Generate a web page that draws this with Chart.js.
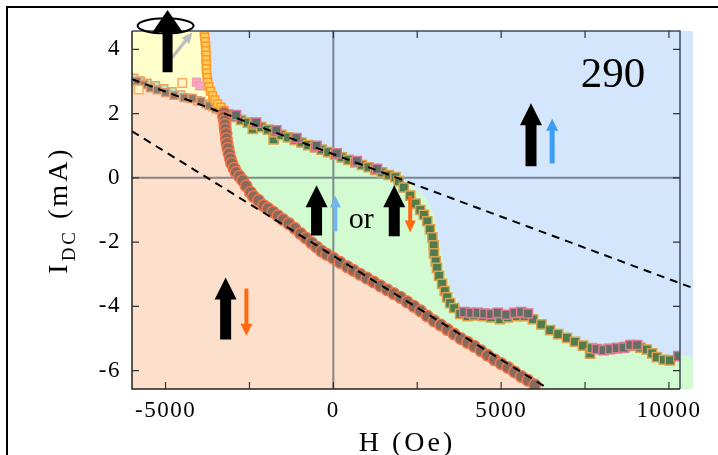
<!DOCTYPE html>
<html>
<head>
<meta charset="utf-8">
<script src="https://cdn.jsdelivr.net/npm/chart.js@4.4.1/dist/chart.umd.min.js"></script>
<style>
  html, body { margin: 0; padding: 0; background: #fff; }
  #wrap { width: 718px; height: 455px; }
</style>
</head>
<body>
<div id="wrap"><canvas id="phaseChart" width="718" height="455"></canvas></div>
<script>
// axes (H in Oe, I in mA)
const hTicks = [-5000, -2500, 0, 2500, 5000, 7500, 10000];
const hLabels = [-5000, 0, 5000, 10000];
const iTicks = [-6, -4, -2, 0, 2, 4];
const hMin = -6000, hMax = 10330;
const iMin = -6.57, iMax = 4.57;

// phase regions as [H, I] outlines
const blueRegion = [[-6000, 4.57], [10720, 4.57], [10720, -6.57], [-6000, -6.57]];
const greenRegion = [
  [-3260, 2.08], [-2500, 1.78], [-1500, 1.40], [-500, 1.0], [500, 0.6], [1500, 0.22], [1950, 0.03],
  [2300, -0.2], [2600, -0.45], [2800, -0.7], [3000, -1.2], [3100, -1.7], [3180, -2.16], [3330, -2.88],
  [3540, -3.5], [3780, -4.03], [4080, -4.19], [4500, -4.12], [5000, -4.13], [5500, -4.1], [5900, -4.15],
  [6300, -4.42], [6900, -4.8], [7500, -5.12], [8000, -5.22], [8500, -5.2], [9000, -5.12], [9400, -5.2],
  [9800, -5.45], [10100, -5.55], [10400, -5.5], [10720, -5.6], [10720, -6.57], [6550, -6.57],
  [6000, -6.44], [4970, -5.78], [3988, -5.12], [2976, -4.45], [1994, -3.72], [420, -2.79], [-390, -2.26],
  [-980, -1.73], [-1580, -1.23], [-2080, -0.86], [-2470, -0.48], [-2700, 0.0], [-2976, 0.55],
  [-3150, 1.1], [-3230, 1.6]
];
const peachRegion = [
  [-6000, 3.12], [-5700, 2.98], [-5400, 2.82], [-5000, 2.62], [-4600, 2.5], [-4200, 2.42], [-3800, 2.28],
  [-3500, 2.15], [-3260, 2.05], [-3230, 1.6], [-3150, 1.1], [-2976, 0.55], [-2700, 0.0], [-2470, -0.48],
  [-2080, -0.86], [-1580, -1.23], [-980, -1.73], [-390, -2.26], [420, -2.79], [1994, -3.72],
  [2976, -4.45], [3988, -5.12], [4970, -5.78], [6000, -6.44], [6450, -6.57], [-6000, -6.57]
];
const yellowRegion = [
  [-6000, 4.57], [-3720, 4.57], [-3720, 3.2], [-3660, 2.75], [-3520, 2.42], [-3350, 2.2], [-3260, 2.08],
  [-3500, 2.17], [-3800, 2.3], [-4200, 2.44], [-4600, 2.52], [-5000, 2.64], [-5400, 2.84], [-5700, 3.0],
  [-6000, 3.14]
];

// measured boundary points
const circlePts = [
  [-3260, 2.02], [-3270, 1.9], [-3240, 1.78], [-3230, 1.66], [-3220, 1.52], [-3200, 1.38], [-3190, 1.22],
  [-3170, 1.07], [-3140, 0.92], [-3110, 0.76], [-3070, 0.6], [-3030, 0.45], [-2960, 0.3], [-2900, 0.17],
  [-2800, 0.05], [-2700, -0.08], [-2600, -0.25], [-2470, -0.45], [-2380, -0.58], [-2230, -0.7],
  [-2080, -0.86], [-1950, -0.95], [-1800, -1.06], [-1650, -1.18], [-1500, -1.3], [-1330, -1.42],
  [-1150, -1.57], [-980, -1.73], [-820, -1.87], [-650, -2.02], [-500, -2.15], [-350, -2.28], [-200, -2.38],
  [0, -2.5], [200, -2.63], [420, -2.77], [600, -2.88], [800, -3.0], [1000, -3.12], [1200, -3.24],
  [1400, -3.36], [1600, -3.48], [1800, -3.6], [2000, -3.72], [2200, -3.86], [2400, -4.0], [2600, -4.14],
  [2800, -4.3], [3000, -4.45], [3200, -4.58], [3400, -4.72], [3600, -4.86], [3800, -5.0], [4000, -5.12],
  [4200, -5.24], [4400, -5.38], [4600, -5.52], [4800, -5.66], [5000, -5.78], [5200, -5.9], [5400, -6.04],
  [5600, -6.18], [5800, -6.3], [6000, -6.44]
];
const greenSquarePts = [
  [-3150, 1.98], [-2950, 1.9], [-2750, 1.8], [-2550, 1.72], [-2400, 1.52], [-2350, 1.66], [-2150, 1.58],
  [-1950, 1.5], [-1780, 1.2], [-1750, 1.42], [-1550, 1.34], [-1350, 1.26], [-1150, 1.18], [-950, 1.1],
  [-750, 1.02], [-550, 0.95], [-350, 0.88], [-150, 0.8], [50, 0.72], [250, 0.64], [450, 0.56], [650, 0.48],
  [850, 0.4], [1050, 0.33], [1250, 0.25], [1450, 0.17], [1650, 0.09], [1850, 0.02],
  [1950, -0.1], [2100, -0.3], [2290, -0.55], [2450, -0.8], [2590, -1.0], [2700, -1.15], [2800, -1.35],
  [2880, -1.6], [2950, -1.85], [2990, -2.1], [3000, -2.35], [3050, -2.6], [3090, -2.8], [3150, -3.05],
  [3240, -3.3], [3320, -3.52], [3390, -3.72], [3480, -3.9], [3600, -4.05], [3780, -4.23], [4000, -4.3],
  [4200, -4.28], [4460, -4.3], [4700, -4.34], [4970, -4.4], [5200, -4.34], [5470, -4.3], [5700, -4.3],
  [5950, -4.4], [6200, -4.56], [6460, -4.74], [6700, -4.86], [6960, -4.98], [7200, -5.1], [7440, -5.22],
  [7650, -5.47], [7700, -5.3], [8200, -5.32], [8450, -5.3], [8700, -5.26], [8930, -5.22], [9150, -5.28],
  [9340, -5.34], [9500, -5.46], [9640, -5.58], [9850, -5.66], [10030, -5.68]
];
const pinkEdgePts = [
  [-2900, 1.95], [-2300, 1.72], [-1700, 1.48], [-1100, 1.24], [-500, 1.0], [100, 0.76], [700, 0.52],
  [1300, 0.28], [3900, -4.18], [4100, -4.2], [4300, -4.2], [4500, -4.22], [4700, -4.24], [4900, -4.2],
  [5150, -4.26], [5400, -4.2], [5600, -4.18], [5800, -4.22], [7850, -5.33], [8050, -5.36], [8250, -5.33],
  [8450, -5.3], [8650, -5.28], [8850, -5.2], [9050, -5.2], [10280, -5.55]
];
const tealPts = [
  [-5950, 3.1], [-5750, 3.02], [-5550, 2.95], [-5300, 2.87], [-5050, 2.78], [-4800, 2.68], [-4550, 2.58],
  [-4300, 2.48], [-4050, 2.4], [-3800, 2.3], [-3600, 2.22], [-3420, 2.12]
];
const brownPts = [
  [-5850, 3.0], [-5650, 2.9], [-5450, 2.8], [-5250, 2.74], [-5000, 2.65], [-4750, 2.57], [-4450, 2.5],
  [-4200, 2.47], [-3950, 2.38], [-3700, 2.25], [-3500, 2.15]
];
const orangePts = [
  [-3850, 4.52], [-3830, 4.38], [-3820, 4.24], [-3800, 4.1], [-3810, 3.96], [-3790, 3.82], [-3800, 3.68],
  [-3780, 3.54], [-3790, 3.4], [-3770, 3.26], [-3760, 3.12], [-3740, 2.98], [-3710, 2.84], [-3660, 2.7],
  [-3600, 2.56], [-3530, 2.43], [-3450, 2.3], [-3350, 2.2], [-3260, 2.1]
];
const pinkPts = [[-4080, 2.98], [-3980, 2.86]];
const hollowPts = [[-4500, 2.95], [-5800, 2.75]];

// dashed guide lines
const upperGuide = [[-6000, 3.07], [10720, -3.43]];
const lowerGuide = [[-6000, 1.45], [6310, -6.5]];

// annotations: [H, I tail, I tip, shaft px, head width px, head length px, colour]
const arrows = [
  [-4940, 3.29, 5.22, 10, 30, 22, '#000'],
  [5890, 0.36, 2.32, 11, 22, 22, '#000'],
  [6520, 0.45, 1.84, 5, 12, 12, '#3d9df5'],
  [-500, -1.79, -0.23, 11, 22, 22, '#000'],
  [60, -1.67, -0.55, 4, 11, 12, '#74b8ea'],
  [1815, -1.82, -0.23, 11, 22, 22, '#000'],
  [2290, -0.55, -1.70, 4, 11, 12, '#ff6a10'],
  [-3210, -5.03, -3.10, 11, 22, 22, '#000'],
  [-2590, -3.44, -4.91, 4, 12, 12, '#ff6a10']
];

const SERIF = "'Liberation Serif', 'Times New Roman', serif";
const OVERHANG = 13; // the coloured regions run a little past the right axis
const xy = pts => pts.map(p => ({ x: p[0], y: p[1] }));

function region(label, pts, color, order) {
  return {
    label: label, data: xy(pts), showLine: true, fill: 'shape',
    backgroundColor: color, borderWidth: 0, borderColor: color,
    pointRadius: 0, order: order, clip: false
  };
}
function markers(label, pts, style, r, fillC, edgeC, order) {
  return {
    label: label, data: xy(pts), showLine: false, pointStyle: style, pointRadius: r,
    pointBackgroundColor: fillC, pointBorderColor: edgeC, pointBorderWidth: 1.5, order: order
  };
}

function drawArrow(ctx, x, yTail, yTip, shaft, headW, headH, color) {
  const dir = yTip < yTail ? -1 : 1;
  const yBase = yTip - dir * headH;
  ctx.fillStyle = color;
  ctx.beginPath();
  ctx.moveTo(x - shaft / 2, yTail);
  ctx.lineTo(x - shaft / 2, yBase);
  ctx.lineTo(x - headW / 2, yBase);
  ctx.lineTo(x, yTip);
  ctx.lineTo(x + headW / 2, yBase);
  ctx.lineTo(x + shaft / 2, yBase);
  ctx.lineTo(x + shaft / 2, yTail);
  ctx.closePath();
  ctx.fill();
}

const decorations = {
  id: 'decorations',
  beforeDraw(chart) {
    // the original tick numbers are set a little wide
    chart.ctx.letterSpacing = '1.5px';
  },
  beforeDatasetsDraw(chart) {
    chart.ctx.letterSpacing = '0px';
    // let the region fills spill past the right axis like the original
    chart.chartArea.right += OVERHANG;
  },
  afterDatasetDraw(chart, args) {
    // zero lines sit above the coloured regions but under the data
    if (chart.data.datasets[args.index].label !== 'yellow') return;
    const { ctx, scales: { x, y } } = chart;
    const x0 = x.getPixelForValue(0), y0 = y.getPixelForValue(0);
    ctx.save();
    ctx.strokeStyle = 'rgba(45,55,75,0.55)';
    ctx.lineWidth = 2;
    ctx.beginPath();
    ctx.moveTo(x0, y.top); ctx.lineTo(x0, y.bottom);
    ctx.moveTo(x.left, y0); ctx.lineTo(x.right, y0);
    ctx.stroke();
    ctx.restore();
  },
  afterDatasetsDraw(chart) {
    chart.chartArea.right -= OVERHANG;
    const { ctx, chartArea: a, scales: { x, y } } = chart;
    ctx.save();
    // plot frame
    ctx.lineWidth = 1.5;
    ctx.strokeStyle = '#3e4c62';
    ctx.beginPath();
    ctx.moveTo(a.left, a.top); ctx.lineTo(a.right, a.top); ctx.lineTo(a.right, a.bottom);
    ctx.stroke();
    ctx.strokeStyle = '#222';
    ctx.beginPath();
    ctx.moveTo(a.left, a.top); ctx.lineTo(a.left, a.bottom); ctx.lineTo(a.right, a.bottom);
    ctx.stroke();
    // inward tick marks on all four sides
    ctx.lineWidth = 1.2;
    ctx.strokeStyle = '#333';
    ctx.beginPath();
    hTicks.forEach(v => {
      const px = x.getPixelForValue(v);
      ctx.moveTo(px, a.bottom); ctx.lineTo(px, a.bottom - 7);
      ctx.moveTo(px, a.top); ctx.lineTo(px, a.top + 7);
    });
    iTicks.forEach(v => {
      const py = y.getPixelForValue(v);
      ctx.moveTo(a.left, py); ctx.lineTo(a.left + 7, py);
      ctx.moveTo(a.right, py); ctx.lineTo(a.right - 7, py);
    });
    ctx.stroke();

    // spin-state arrows
    const ex = x.getPixelForValue(-5000), ey = y.getPixelForValue(4.73);
    ctx.strokeStyle = '#000';
    ctx.lineWidth = 2;
    ctx.beginPath();
    ctx.ellipse(ex, ey, 28, 7.5, 0, 0, Math.PI * 2);
    ctx.stroke();
    // grey tilted arrow
    const gx0 = x.getPixelForValue(-5060), gy0 = y.getPixelForValue(3.41);
    const gx1 = x.getPixelForValue(-4200), gy1 = y.getPixelForValue(4.53);
    const ang = Math.atan2(gy1 - gy0, gx1 - gx0);
    ctx.strokeStyle = '#bdbdbd';
    ctx.fillStyle = '#bdbdbd';
    ctx.lineWidth = 3.5;
    ctx.beginPath();
    ctx.moveTo(gx0, gy0);
    ctx.lineTo(gx1 - 8 * Math.cos(ang), gy1 - 8 * Math.sin(ang));
    ctx.stroke();
    ctx.beginPath();
    ctx.moveTo(gx1, gy1);
    ctx.lineTo(gx1 - 11 * Math.cos(ang) + 5 * Math.sin(ang), gy1 - 11 * Math.sin(ang) - 5 * Math.cos(ang));
    ctx.lineTo(gx1 - 11 * Math.cos(ang) - 5 * Math.sin(ang), gy1 - 11 * Math.sin(ang) + 5 * Math.cos(ang));
    ctx.closePath();
    ctx.fill();

    arrows.forEach(r => {
      drawArrow(ctx, x.getPixelForValue(r[0]), y.getPixelForValue(r[1]), y.getPixelForValue(r[2]),
        r[3], r[4], r[5], r[6]);
    });

    // labels inside the plot
    ctx.fillStyle = '#000';
    ctx.textAlign = 'center';
    ctx.textBaseline = 'alphabetic';
    ctx.font = '43px ' + SERIF;
    ctx.fillText('290', x.getPixelForValue(8330), y.getPixelForValue(2.82));
    ctx.font = '30px ' + SERIF;
    ctx.fillText('or', x.getPixelForValue(830), y.getPixelForValue(-1.57));
    ctx.restore();
  },
  afterDraw(chart) {
    const { ctx, chartArea: a } = chart;
    ctx.save();
    // outer figure frame
    ctx.strokeStyle = '#000';
    ctx.lineWidth = 2;
    ctx.beginPath();
    ctx.moveTo(7, 455); ctx.lineTo(7, 7); ctx.lineTo(718, 7);
    ctx.stroke();
    // axis titles
    ctx.fillStyle = '#000';
    ctx.letterSpacing = '3px';
    ctx.font = '28px ' + SERIF;
    ctx.textAlign = 'center';
    ctx.textBaseline = 'alphabetic';
    ctx.fillText('H (Oe)', (a.left + a.right) / 2 + 1, 451);
    // y title, rotated, with subscript
    ctx.translate(67, (a.top + a.bottom) / 2);
    ctx.rotate(-Math.PI / 2);
    ctx.textAlign = 'left';
    const big = '28px ' + SERIF, small = '19px ' + SERIF;
    ctx.font = big; const wI = ctx.measureText('I').width;
    ctx.font = small; const wDC = ctx.measureText('DC').width;
    ctx.font = big; const wRest = ctx.measureText(' (mA)').width;
    let cx = -(wI + wDC + wRest) / 2;
    ctx.fillText('I', cx, 0); cx += wI;
    ctx.font = small; ctx.fillText('DC', cx, 8); cx += wDC;
    ctx.font = big; ctx.fillText(' (mA)', cx, 0);
    ctx.restore();
  }
};

new Chart(document.getElementById('phaseChart'), {
  type: 'scatter',
  data: {
    datasets: [
      region('blue', blueRegion, '#d3e6fb', 23),
      region('green', greenRegion, '#d3fbd2', 22),
      region('peach', peachRegion, '#fde0cc', 21),
      region('yellow', yellowRegion, '#ffffcc', 20),
      markers('teal', tealPts, 'rect', 5.5, '#a4eed6', '#f0a060', 12),
      markers('brown', brownPts, 'rect', 5.5, '#8e7a6c', '#e39a6a', 11),
      markers('orange', orangePts, 'rect', 5.5, '#ffcf5a', '#ff9a2a', 10),
      markers('pink', pinkPts, 'rect', 5.5, '#f5a8bc', '#f0a0b0', 9),
      markers('hollow', hollowPts, 'rect', 6, '#fff6d0', '#f4b060', 9),
      markers('greenSquares', greenSquarePts, 'rect', 6.5, '#4e7c4f', '#daa24e', 8),
      markers('pinkEdge', pinkEdgePts, 'rect', 6.5, '#5f7062', '#e07494', 7),
      {
        label: 'circles', data: xy(circlePts), showLine: true, borderColor: '#f03020', borderWidth: 1.2,
        pointStyle: 'circle', pointRadius: 5.8, pointBackgroundColor: '#896b5c',
        pointBorderColor: '#f27448', pointBorderWidth: 1.5, order: 6
      },
      {
        label: 'upperGuide', data: xy(upperGuide), showLine: true, borderColor: '#000', borderWidth: 2,
        borderDash: [8, 6], pointRadius: 0, order: 1, clip: false
      },
      {
        label: 'lowerGuide', data: xy(lowerGuide), showLine: true, borderColor: '#000', borderWidth: 2,
        borderDash: [8, 6], pointRadius: 0, order: 1
      }
    ]
  },
  options: {
    responsive: false,
    animation: false,
    events: [],
    layout: { padding: { left: 0, top: 31, right: 38, bottom: 0 } },
    plugins: { legend: { display: false }, tooltip: { enabled: false } },
    scales: {
      x: {
        type: 'linear', min: hMin, max: hMax,
        afterFit: s => { s.height = 66; },
        afterBuildTicks: s => { s.ticks = hTicks.map(v => ({ value: v })); },
        grid: { display: false, drawTicks: false },
        border: { display: false },
        ticks: {
          callback: v => hLabels.includes(v) ? String(v) : '',
          font: { family: SERIF, size: 23 }, color: '#000', padding: 8, maxRotation: 0, autoSkip: false
        }
      },
      y: {
        type: 'linear', min: iMin, max: iMax,
        afterFit: s => { s.width = 132; },
        afterBuildTicks: s => { s.ticks = iTicks.map(v => ({ value: v })); },
        grid: { display: false, drawTicks: false },
        border: { display: false },
        ticks: {
          callback: v => String(v),
          font: { family: SERIF, size: 23 }, color: '#000', padding: 11, autoSkip: false
        }
      }
    }
  },
  plugins: [decorations]
});
</script>
</body>
</html>
